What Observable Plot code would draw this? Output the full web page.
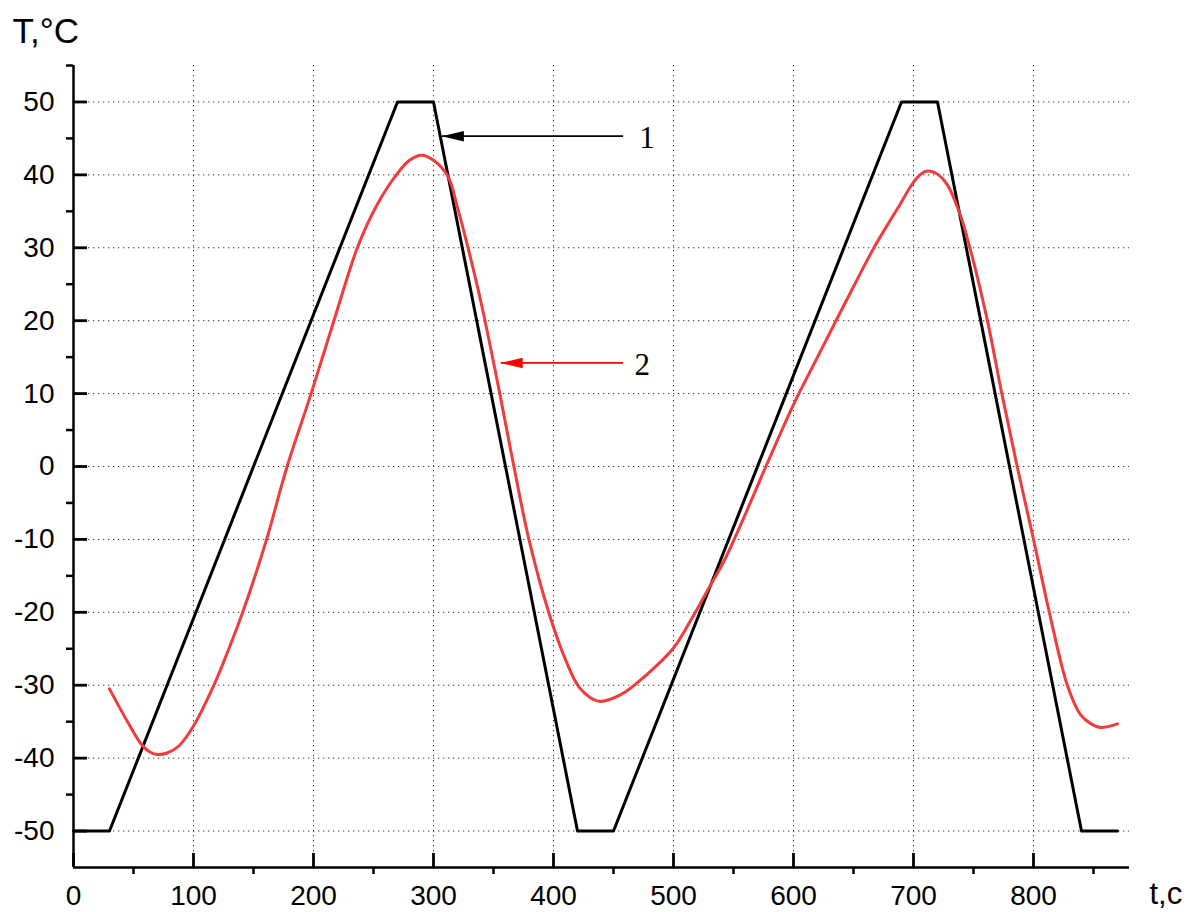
<!DOCTYPE html>
<html>
<head>
<meta charset="utf-8">
<script src="https://cdn.jsdelivr.net/npm/d3@7"></script>
<script src="https://cdn.jsdelivr.net/npm/@observablehq/plot@0.6"></script>
<style>
  body { margin: 0; background: #ffffff; }
  #chart svg { display: block; }
</style>
</head>
<body>
<div id="chart"></div>
<script>
// ---- Data ----
// Curve 1: programmed chamber temperature (black)
const timeBlack = [0, 30, 270, 300, 420, 450, 690, 720, 840, 870];
const tempBlack = [-50, -50, 50, 50, -50, -50, 50, 50, -50, -50];

// Curve 2: measured sample temperature (red)
const timeRed = [30, 45, 57, 64, 70, 78, 88, 100, 117, 129, 141, 160, 178, 198, 217, 237, 253, 269, 280, 290, 300, 312,
  320, 328, 339.5, 355, 367, 379.5, 396, 410, 422, 438, 456, 478, 500, 514, 528, 542, 556, 577, 600, 620, 637, 652,
  667, 680, 689, 696, 703, 709, 714, 720, 728, 739, 747, 761.6, 773.6, 786.4, 800, 813.2, 828.2, 839, 848, 856, 870];
const tempRed = [-30.5, -35, -38.2, -39.2, -39.5, -39.3, -38.3, -35.6, -30, -25.2, -20, -10.5, 0, 10, 20, 30.2, 35.9, 40, 42, 42.7, 42, 39.8,
  35.5, 30.5, 22.6, 10.2, 0, -10, -20, -26.5, -30.4, -32.2, -31.3, -28.5, -24.9, -21.2, -17.1, -13, -8, 0, 8.5, 15, 20.5, 25.3,
  30, 33.6, 36, 38, 39.6, 40.4, 40.5, 40.1, 38.7, 34.5, 30, 20, 10, 0, -10, -20, -30, -34, -35.3, -35.8, -35.3];

// Axis ticks
const xMajorTicks = [0, 100, 200, 300, 400, 500, 600, 700, 800];
const xMinorTicks = [50, 150, 250, 350, 450, 550, 650, 750, 850];
const yMajorTicks = [-50, -40, -30, -20, -10, 0, 10, 20, 30, 40, 50];
const yMinorTicks = [-45, -35, -25, -15, -5, 5, 15, 25, 35, 45, 55];

// Curve callouts
const calloutLabels = ["1", "2"];
const calloutTipTime = [307, 356];
const calloutTailTime = [458, 458];
const calloutTemp = [45.3, 14.2];
const calloutLabelTime = [478, 474];

const yAxisTitle = "T,\u00B0C";
const xAxisTitle = "t,c";

// ---- Build tables ----
const black = timeBlack.map((t, i) => ({t, T: tempBlack[i]}));
const red = timeRed.map((t, i) => ({t, T: tempRed[i]}));
const callouts = calloutLabels.map((label, i) => ({
  label, tip: calloutTipTime[i], tail: calloutTailTime[i], T: calloutTemp[i], lt: calloutLabelTime[i]
}));
const calloutColors = ["#000000", "#ff0000"];

// ---- Layout ----
const W = 1196, H = 912;
const mL = 73, mR = 67, mT = 65, mB = 45;
const xDomain = [0, 880], yDomain = [-55, 55];
const majorLen = 14, minorLen = 7;

// long narrow filled arrowhead, tip at the origin, pointing left
const arrowHead = {
  draw(ctx) {
    ctx.moveTo(0, 0);
    ctx.lineTo(22, -5.2);
    ctx.lineTo(22, 5.2);
    ctx.closePath();
  }
};

const gridStyle = {stroke: "#333333", strokeOpacity: 1, strokeWidth: 1, strokeDasharray: "1.3,3.7"};

const calloutMarks = callouts.flatMap((c, i) => [
  Plot.link([c], {x1: "tail", x2: "tip", y1: "T", y2: "T", stroke: calloutColors[i], strokeWidth: 1.8}),
  Plot.dot([c], {x: "tip", y: "T", symbol: arrowHead, fill: calloutColors[i], stroke: null, r: 5}),
  Plot.text([c], {x: "lt", y: "T", text: "label", fill: "#000", fontSize: 31,
    fontFamily: "'Liberation Serif', 'Times New Roman', serif", textAnchor: "middle", dy: 2})
]);

const chart = Plot.plot({
  width: W,
  height: H,
  marginLeft: mL,
  marginRight: mR,
  marginTop: mT,
  marginBottom: mB,
  style: {fontFamily: "'Liberation Sans', Arial, sans-serif", background: "#ffffff", color: "#000000"},
  x: {domain: xDomain, axis: null},
  y: {domain: yDomain, axis: null},
  marks: [
    Plot.gridX(xMajorTicks.filter(d => d > 0), gridStyle),
    Plot.gridY(yMajorTicks, gridStyle),
    Plot.line(black, {x: "t", y: "T", stroke: "#000000", strokeWidth: 3}),
    Plot.line(red, {x: "t", y: "T", stroke: "#f03c3c", strokeWidth: 3, curve: "catmull-rom"}),
    ...calloutMarks,
    // axis lines
    Plot.ruleX([xDomain[0]], {strokeWidth: 2.5}),
    Plot.ruleY([yDomain[0]], {strokeWidth: 2.5}),
    // y axis: labels, inward major ticks (shifted inside the frame), outward minor ticks
    Plot.axisY(yMajorTicks, {anchor: "left", tickSize: 0, tickPadding: 19, fontSize: 28, tickFormat: d => String(d), label: null}),
    Plot.axisY(yMajorTicks, {anchor: "left", tickSize: majorLen, dx: majorLen, text: null, stroke: "#000000", strokeWidth: 2.8, label: null}),
    Plot.axisY(yMinorTicks, {anchor: "left", tickSize: minorLen, text: null, strokeWidth: 2.5, label: null}),
    // x axis
    Plot.axisX(xMajorTicks, {anchor: "bottom", tickSize: 0, tickPadding: 18, fontSize: 28, tickFormat: d => String(d), label: null}),
    Plot.axisX(xMajorTicks, {anchor: "bottom", tickSize: majorLen, dy: -majorLen, text: null, stroke: "#000000", strokeWidth: 2.8, label: null}),
    Plot.axisX(xMinorTicks, {anchor: "bottom", tickSize: minorLen, text: null, strokeWidth: 2.5, label: null}),
    // axis titles
    Plot.text([yAxisTitle], {text: d => d, frameAnchor: "top-left", dx: -61, dy: -23, textAnchor: "start", lineAnchor: "bottom", fontSize: 35}),
    Plot.text([xAxisTitle], {text: d => d, frameAnchor: "bottom-right", dx: 20, dy: 36, textAnchor: "start", lineAnchor: "bottom", fontSize: 31})
  ]
});

document.getElementById("chart").appendChild(chart);
</script>
</body>
</html>
